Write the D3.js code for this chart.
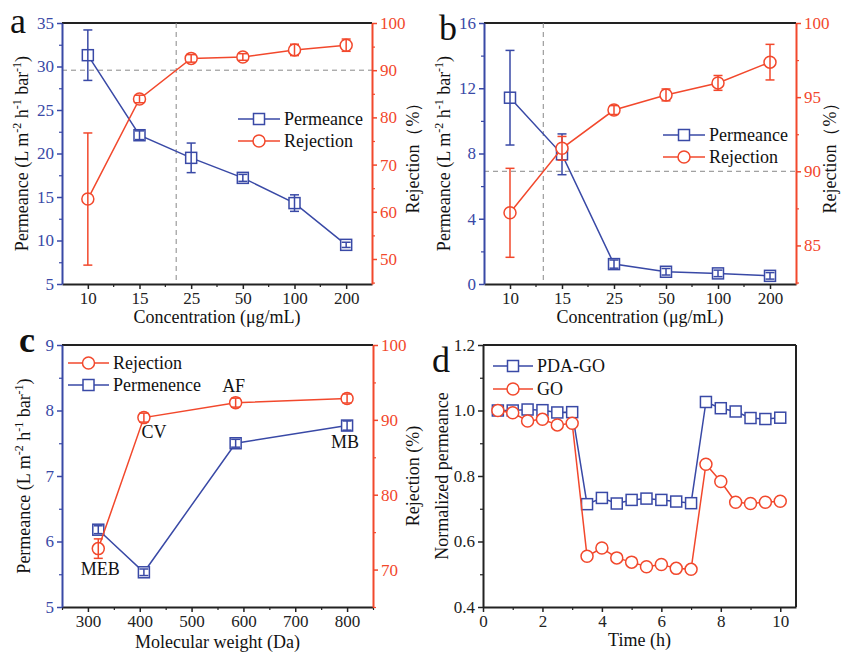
<!DOCTYPE html>
<html>
<head>
<meta charset="utf-8">
<script src="https://cdn.jsdelivr.net/npm/d3@7"></script>
<style>
  body { margin: 0; background: #fff; }
  svg, svg text { font-family: 'Liberation Serif', 'Times New Roman', serif; }
  svg { display: block; }
</style>
</head>
<body>
<svg id="fig" width="841" height="652"></svg>
<script>
// ---- data ----
const concCats = ['10', '15', '25', '50', '100', '200'];

const aPerm = [31.3, 22.1, 19.5, 17.2, 14.3, 9.5];
const aPermErr = [2.9, 0.5, 1.7, 0.4, 0.95, 0.3];
const aRej = [62.7, 83.9, 92.5, 92.8, 94.3, 95.3];
const aRejErr = [14, 0.8, 0.8, 0.7, 1.2, 1.3];

const bPerm = [11.42, 7.95, 1.22, 0.75, 0.65, 0.5];
const bPermErr = [2.9, 1.25, 0.25, 0.2, 0.2, 0.2];
const bRej = [87.2, 91.55, 94.13, 95.15, 95.96, 97.36];
const bRejErr = [3.0, 0.8, 0.3, 0.4, 0.5, 1.2];

const dyeNames = ['MEB', 'CV', 'AF', 'MB'];
const dyeMw = [320, 408, 585, 800];
const cPerm = [6.18, 5.53, 7.5, 7.77];
const cPermErr = [0.06, 0.05, 0.06, 0.07];
const cRej = [72.8, 90.3, 92.3, 92.85];
const cRejErr = [1.3, 0.6, 0.6, 0.6];

const timeH = [0.5, 1, 1.5, 2, 2.5, 3, 3.5, 4, 4.5, 5, 5.5, 6, 6.5, 7, 7.5, 8, 8.5, 9, 9.5, 10];
const pdaGo = [1.0, 1.0, 1.003, 1.001, 0.994, 0.995, 0.714, 0.733, 0.716, 0.727, 0.731, 0.727, 0.722, 0.717, 1.026, 1.007, 0.997, 0.977, 0.974, 0.978];
const goOnly = [1.0, 0.993, 0.968, 0.973, 0.956, 0.961, 0.555, 0.58, 0.55, 0.537, 0.523, 0.53, 0.518, 0.515, 0.836, 0.783, 0.72, 0.716, 0.72, 0.723];

const blue = '#3949a6';
const red = '#f2482c';
const FONT = "'Liberation Serif', 'Times New Roman', serif";

const svg = d3.select('#fig');

function range(a, b, s) {
  const out = [];
  for (let v = a; v <= b + 1e-9; v += s) out.push(+v.toFixed(4));
  return out;
}

// draws axis line + major/minor ticks
function drawAxis(g, axisFn, scale, major, minor, color, fmt) {
  const ga = g.append('g');
  ga.call(axisFn(scale).tickValues(major).tickSize(5).tickSizeOuter(0).tickPadding(3)
    .tickFormat(fmt || (d => d)));
  ga.attr('font-family', FONT);
  ga.select('.domain').attr('stroke', color).attr('stroke-width', 2);
  ga.selectAll('.tick line').attr('stroke', color).attr('stroke-width', 1.5);
  ga.selectAll('.tick text').attr('fill', color).attr('font-family', FONT)
    .style('font-family', FONT).style('font-size', '17px');
  if (minor) {
    const gm = g.append('g');
    gm.call(axisFn(scale).tickValues(minor).tickSize(3).tickSizeOuter(0).tickFormat(''));
    gm.select('.domain').remove();
    gm.selectAll('.tick line').attr('stroke', color).attr('stroke-width', 1.2);
  }
  return ga;
}

function frame(box) {
  svg.append('line').attr('x1', box.x0).attr('x2', box.x1).attr('y1', box.y0).attr('y2', box.y0)
    .attr('stroke', '#222').attr('stroke-width', 2);
}

function marker(g, shape, cx, cy, color, r) {
  if (shape === 'square') {
    const s = r || 5.5;
    g.append('rect').attr('x', cx - s).attr('y', cy - s).attr('width', 2 * s).attr('height', 2 * s)
      .attr('fill', '#fff').attr('stroke', color).attr('stroke-width', 1.5);
  } else {
    g.append('circle').attr('cx', cx).attr('cy', cy).attr('r', r || 6)
      .attr('fill', '#fff').attr('stroke', color).attr('stroke-width', 1.5);
  }
}

function series(xs, ys, errs, xScale, yScale, color, shape, r) {
  const g = svg.append('g');
  const pts = xs.map((x, i) => [xScale(x), yScale(ys[i])]);
  g.append('path').attr('d', d3.line()(pts)).attr('fill', 'none')
    .attr('stroke', color).attr('stroke-width', 1.5);
  pts.forEach(p => marker(g, shape, p[0], p[1], color, r));
  if (errs) {
    xs.forEach((x, i) => {
      const px = xScale(x);
      const top = yScale(ys[i] + errs[i]);
      const bot = yScale(ys[i] - errs[i]);
      g.append('line').attr('x1', px).attr('x2', px).attr('y1', top).attr('y2', bot)
        .attr('stroke', color).attr('stroke-width', 1.5);
      [top, bot].forEach(yy => g.append('line').attr('x1', px - 4.5).attr('x2', px + 4.5)
        .attr('y1', yy).attr('y2', yy).attr('stroke', color).attr('stroke-width', 1.5));
    });
  }
}

function permTitle(x, cy) {
  const t = svg.append('text').attr('transform', `translate(${x},${cy}) rotate(-90)`)
    .attr('text-anchor', 'middle').attr('font-family', FONT).style('font-size', '18px').attr('fill', '#111');
  t.append('tspan').text('Permeance (L m');
  t.append('tspan').attr('dy', -7).style('font-size', '12px').text('-2');
  t.append('tspan').attr('dy', 7).text(' h');
  t.append('tspan').attr('dy', -7).style('font-size', '12px').text('-1');
  t.append('tspan').attr('dy', 7).text(' bar');
  t.append('tspan').attr('dy', -7).style('font-size', '12px').text('-1');
  t.append('tspan').attr('dy', 7).text(')');
}

function vText(x, cy, str) {
  svg.append('text').attr('transform', `translate(${x},${cy}) rotate(-90)`)
    .attr('text-anchor', 'middle').attr('font-family', FONT).style('font-size', '18px')
    .attr('fill', '#111').text(str);
}

function hText(x, y, str, size, anchor) {
  return svg.append('text').attr('x', x).attr('y', y).attr('text-anchor', anchor || 'middle')
    .attr('font-family', FONT).style('font-size', (size || 18) + 'px').attr('fill', '#111').text(str);
}

function legendRow(x, y, shape, color, label, len, r) {
  const g = svg.append('g');
  g.append('line').attr('x1', x).attr('x2', x + len).attr('y1', y).attr('y2', y)
    .attr('stroke', color).attr('stroke-width', 1.5);
  marker(g, shape, x + len / 2, y, color, r);
  g.append('text').attr('x', x + len + 4).attr('y', y + 6).attr('font-family', FONT)
    .style('font-size', '18px').attr('fill', '#111').text(label);
}

function dashed(x1, y1, x2, y2) {
  svg.append('line').attr('x1', x1).attr('x2', x2).attr('y1', y1).attr('y2', y2)
    .attr('stroke', '#888').attr('stroke-width', 1).attr('stroke-dasharray', '5,4');
}

// ---- concentration panels (a, b) ----
function concPanel(box, perm, permErr, rej, rejErr, yl, yr, opt) {
  const x = d3.scalePoint().domain(concCats).range([box.x0, box.x1]).padding(0.5);
  const yL = d3.scaleLinear().domain(yl).range([box.y1, box.y0]);
  const yR = d3.scaleLinear().domain(yr).range([box.y1, box.y0]);
  const step = x.step();

  frame(box);
  // reference lines
  const vx = x(concCats[opt.vIdx]) + opt.vFrac * step;
  dashed(vx, box.y0, vx, box.y1);
  dashed(box.x0, yR(90), box.x1, yR(90));

  const gb = svg.append('g').attr('transform', `translate(0,${box.y1})`);
  drawAxis(gb, d3.axisBottom, x, concCats, null, '#222');
  const mid = concCats.slice(0, -1).map(c => x(c) + step / 2);
  mid.forEach(m => gb.append('line').attr('x1', m).attr('x2', m).attr('y1', 0).attr('y2', 3)
    .attr('stroke', '#222').attr('stroke-width', 1.2));

  drawAxis(svg.append('g').attr('transform', `translate(${box.x0},0)`), d3.axisLeft, yL,
    opt.lMajor, opt.lMinor, blue);
  drawAxis(svg.append('g').attr('transform', `translate(${box.x1},0)`), d3.axisRight, yR,
    opt.rMajor, opt.rMinor, red);

  series(concCats, perm, permErr, x, yL, blue, 'square');
  series(concCats, rej, rejErr, x, yR, red, 'circle');

  legendRow(opt.legX, opt.legY, 'square', blue, 'Permeance', 42);
  legendRow(opt.legX, opt.legY + 22, 'circle', red, 'Rejection', 42);

  permTitle(box.x0 - 34, (box.y0 + box.y1) / 2);
  vText(opt.rTitleX, (box.y0 + box.y1) / 2, 'Rejection（%）');
  hText((box.x0 + box.x1) / 2, 323, 'Concentration (μg/mL)');
  hText(opt.letterX, opt.letterY, opt.letter, 36, 'start');
}

concPanel({ x0: 62, x1: 372, y0: 23, y1: 284 }, aPerm, aPermErr, aRej, aRejErr,
  [5, 35], [44.7, 100], {
    vIdx: 1, vFrac: 0.71,
    lMajor: range(5, 35, 5), lMinor: range(7.5, 32.5, 5),
    rMajor: range(50, 100, 10), rMinor: range(45, 95, 10),
    legX: 238, legY: 119, rTitleX: 419, letter: 'a', letterX: 10, letterY: 33
  });

concPanel({ x0: 484, x1: 796, y0: 23, y1: 284 }, bPerm, bPermErr, bRej, bRejErr,
  [0, 16], [82.4, 100], {
    vIdx: 0, vFrac: 0.64,
    lMajor: range(0, 16, 4), lMinor: range(2, 14, 4),
    rMajor: range(85, 100, 5), rMinor: range(82.5, 97.5, 5),
    legX: 663, legY: 135, rTitleX: 836, letter: 'b', letterX: 439, letterY: 40
  });

// ---- panel c ----
(function () {
  const box = { x0: 62, x1: 373, y0: 345, y1: 607 };
  const x = d3.scaleLinear().domain([250, 850]).range([box.x0, box.x1]);
  const yL = d3.scaleLinear().domain([5, 9]).range([box.y1, box.y0]);
  const yR = d3.scaleLinear().domain([65, 100]).range([box.y1, box.y0]);
  frame(box);
  drawAxis(svg.append('g').attr('transform', `translate(0,${box.y1})`), d3.axisBottom, x,
    range(300, 800, 100), range(250, 850, 100), '#222');
  drawAxis(svg.append('g').attr('transform', `translate(${box.x0},0)`), d3.axisLeft, yL,
    range(5, 9, 1), range(5.5, 8.5, 1), blue);
  drawAxis(svg.append('g').attr('transform', `translate(${box.x1},0)`), d3.axisRight, yR,
    range(70, 100, 10), range(65, 95, 10), red);

  series(dyeMw, cPerm, cPermErr, x, yL, blue, 'square');
  series(dyeMw, cRej, cRejErr, x, yR, red, 'circle');

  // label anchors: MEB under rejection point, CV under rejection, AF above rejection, MB under permeance
  const anchorY = [yR(cRej[0]), yR(cRej[1]), yR(cRej[2]), yL(cPerm[3])];
  const labOff = [[2, 26], [10, 20], [-2, -11], [-2, 22]];
  dyeNames.forEach((n, i) => {
    hText(x(dyeMw[i]) + labOff[i][0], anchorY[i] + labOff[i][1], n, 18);
  });

  legendRow(68, 363, 'circle', red, 'Rejection', 41);
  legendRow(68, 385, 'square', blue, 'Permenence', 41);

  permTitle(box.x0 - 32, (box.y0 + box.y1) / 2);
  vText(419, (box.y0 + box.y1) / 2, 'Rejection (%)');
  hText((box.x0 + box.x1) / 2, 648, 'Molecular weight (Da)');
  hText(19, 352, 'c', 36, 'start').style('font-weight', 'bold');
})();

// ---- panel d ----
(function () {
  const box = { x0: 483, x1: 796, y0: 345, y1: 607 };
  const x = d3.scaleLinear().domain([0, 10.53]).range([box.x0, box.x1]);
  const y = d3.scaleLinear().domain([0.4, 1.2]).range([box.y1, box.y0]);
  frame(box);
  svg.append('line').attr('x1', box.x1).attr('x2', box.x1).attr('y1', box.y0).attr('y2', box.y1)
    .attr('stroke', '#222').attr('stroke-width', 2);
  drawAxis(svg.append('g').attr('transform', `translate(0,${box.y1})`), d3.axisBottom, x,
    range(0, 10, 2), range(1, 9, 2), '#222');
  drawAxis(svg.append('g').attr('transform', `translate(${box.x0},0)`), d3.axisLeft, y,
    range(0.4, 1.2, 0.2), range(0.5, 1.1, 0.2), '#222', d3.format('.1f'));

  series(timeH, pdaGo, null, x, y, blue, 'square');
  series(timeH, goOnly, null, x, y, red, 'circle');

  legendRow(493, 366, 'square', blue, 'PDA-GO', 40);
  legendRow(493, 389, 'circle', red, 'GO', 40);

  vText(448, (box.y0 + box.y1) / 2, 'Normalized permeance');
  hText((box.x0 + box.x1) / 2, 646, 'Time (h)');
  hText(432, 372, 'd', 36, 'start');
})();
</script>
</body>
</html>
